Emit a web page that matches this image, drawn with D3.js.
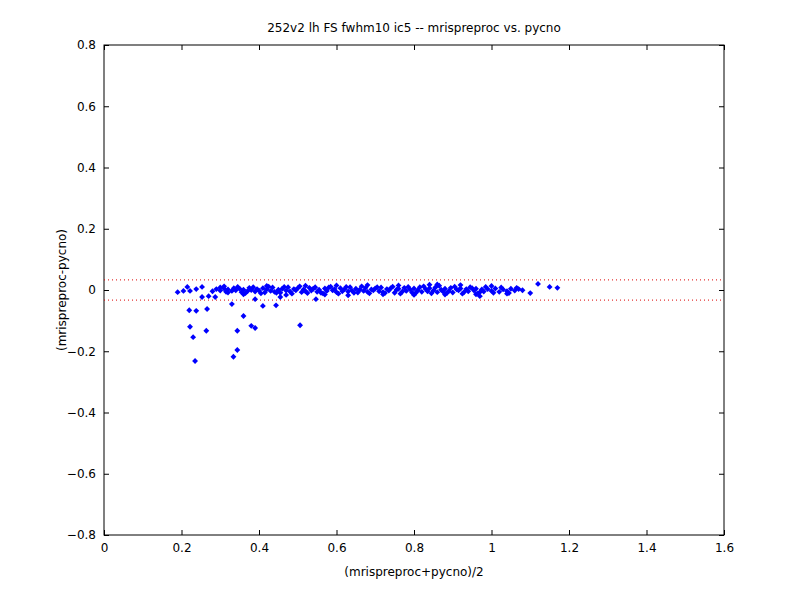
<!DOCTYPE html>
<html>
<head>
<meta charset="utf-8">
<script src="https://d3js.org/d3.v7.min.js"></script>
<style>
  body { margin: 0; background: #fff; }
  text { font-family: "DejaVu Sans", sans-serif; font-size: 12px; }
</style>
</head>
<body>
<div id="chart"></div>
<script>
var w = 800, h = 600;
var margin = {left: 104, right: 76, top: 45, bottom: 65};

var xTicks = [0, 0.2, 0.4, 0.6, 0.8, 1, 1.2, 1.4, 1.6];
var yTicks = [-0.8, -0.6, -0.4, -0.2, 0, 0.2, 0.4, 0.6, 0.8];
var limits = [-0.033, 0.033];

// scattered points below the band
var outX = [0.19, 0.205, 0.215, 0.222, 0.238, 0.253, 0.253, 0.27, 0.287, 0.33, 0.39, 0.41, 0.444, 0.455, 0.547,
  0.22, 0.238, 0.266, 0.36, 0.222, 0.264, 0.23, 0.344, 0.38, 0.39, 0.506, 0.344, 0.334, 0.235,
  0.97, 1.12, 1.15, 1.17, 1.1];
var outY = [-0.007, -0.003, 0.01, -0.003, 0.003, 0.01, -0.023, -0.02, -0.023, -0.046, -0.03, -0.052, -0.05, -0.023, -0.03,
  -0.066, -0.068, -0.062, -0.085, -0.12, -0.133, -0.154, -0.133, -0.117, -0.124, -0.115, -0.196, -0.218, -0.232,
  -0.02, 0.02, 0.01, 0.007, -0.01];

// dense band near zero
var bandX = [0.28, 0.29, 0.3, 0.31, 0.315, 0.32, 0.33, 0.335, 0.34, 0.35, 0.355, 0.36, 0.37, 0.375, 0.38, 0.39, 0.395, 0.4,
  0.41, 0.415, 0.42, 0.43, 0.435, 0.44, 0.45, 0.455, 0.46, 0.47, 0.475, 0.48, 0.49, 0.495, 0.5, 0.51, 0.515, 0.52,
  0.53, 0.535, 0.54, 0.55, 0.555, 0.56, 0.57, 0.575, 0.58, 0.59, 0.595, 0.6, 0.61, 0.615, 0.62, 0.63, 0.635, 0.64,
  0.65, 0.655, 0.66, 0.67, 0.675, 0.68, 0.69, 0.695, 0.7, 0.71, 0.715, 0.72, 0.73, 0.735, 0.74, 0.75, 0.755, 0.76,
  0.77, 0.775, 0.78, 0.79, 0.795, 0.8, 0.81, 0.815, 0.82, 0.83, 0.835, 0.84, 0.85, 0.855, 0.86, 0.87, 0.875, 0.88,
  0.89, 0.895, 0.9, 0.91, 0.915, 0.92, 0.93, 0.935, 0.94, 0.95, 0.955, 0.96, 0.97, 0.975, 0.98, 0.99, 1.0, 1.01,
  1.02, 1.03, 1.04, 1.05, 1.06, 1.07, 1.08,
  0.3, 0.32, 0.345, 0.365, 0.385, 0.405, 0.425, 0.445, 0.465, 0.485, 0.505, 0.525, 0.545, 0.565, 0.585, 0.605,
  0.625, 0.645, 0.665, 0.685, 0.705, 0.725, 0.745, 0.765, 0.785, 0.805, 0.825, 0.845, 0.865, 0.885, 0.905, 0.925,
  0.945, 0.965, 0.985, 1.005, 1.025, 1.045, 1.065,
  0.31, 0.36, 0.42, 0.47, 0.52, 0.57, 0.6, 0.63, 0.68, 0.72, 0.76, 0.8, 0.84, 0.86, 0.88, 0.92, 0.96, 1.0, 1.04];
var bandY = [-0.004, 0.003, -0.002, 0.005, -0.006, 0.002, -0.003, 0.006, -0.001, 0.004, -0.007, 0.001, -0.004, 0.007, 0.0, -0.005, 0.003, -0.002,
  0.006, -0.008, 0.002, -0.003, 0.008, -0.006, 0.001, -0.009, 0.004, -0.002, 0.009, -0.005, 0.003, -0.001, 0.006, -0.007, 0.002, -0.004,
  0.007, -0.002, 0.004, -0.006, 0.001, -0.009, 0.005, -0.003, 0.008, -0.001, 0.003, -0.007, 0.006, -0.004, 0.002, -0.005, 0.009, -0.002,
  0.004, -0.008, 0.001, -0.003, 0.007, -0.006, 0.002, -0.001, 0.005, -0.004, 0.008, -0.007, 0.003, -0.002, 0.006, -0.009, 0.001, 0.004,
  -0.005, 0.007, -0.003, 0.002, -0.008, 0.005, -0.001, 0.009, -0.006, 0.003, -0.004, 0.006, -0.002, 0.008, -0.007, 0.001, -0.005, 0.004,
  -0.003, 0.007, -0.008, 0.002, -0.001, 0.005, -0.006, 0.003, -0.004, 0.006, -0.002, 0.004, -0.007, 0.002, -0.005, 0.003, -0.003, 0.005,
  -0.006, 0.002, -0.004, 0.004, -0.002, 0.003, -0.001,
  0.008, -0.008, 0.01, -0.01, 0.009, -0.011, 0.011, -0.009, 0.01, -0.012, 0.012, -0.01, 0.009, -0.011, 0.011, -0.012,
  0.01, -0.009, 0.012, -0.011, 0.009, -0.01, 0.011, -0.012, 0.01, -0.009, 0.012, -0.011, 0.014, -0.01, 0.011, -0.012,
  0.009, -0.011, 0.01, -0.009, 0.008, -0.01, 0.007,
  0.012, -0.014, 0.013, -0.016, 0.014, -0.015, 0.015, -0.017, 0.016, -0.014, 0.015, -0.016, 0.017, 0.018, -0.015, 0.016, -0.014, 0.013, -0.012];

var points = [];
bandX.forEach(function(x, i) { points.push([x, bandY[i]]); });
outX.forEach(function(x, i) { points.push([x, outY[i]]); });

var svg = d3.select("#chart").append("svg").attr("width", w).attr("height", h);

var x = d3.scaleLinear().domain([0, 1.6]).range([margin.left, w - margin.right]);
var y = d3.scaleLinear().domain([-0.8, 0.8]).range([h - margin.bottom, margin.top]);

svg.append("rect")
  .attr("x", x(0)).attr("y", y(0.8))
  .attr("width", x(1.6) - x(0)).attr("height", y(-0.8) - y(0.8))
  .attr("fill", "#fff").attr("stroke", "#000");

// axes with inward ticks, mirrored on top/right
function fmt(d) { return d3.format("")(+d.toFixed(1)); }
svg.append("g").attr("transform", "translate(0," + y(-0.8) + ")")
  .call(d3.axisBottom(x).tickValues(xTicks).tickSizeInner(-5).tickSizeOuter(0).tickPadding(8).tickFormat(fmt));
svg.append("g").attr("transform", "translate(0," + y(0.8) + ")")
  .call(d3.axisTop(x).tickValues(xTicks).tickSizeInner(-5).tickSizeOuter(0).tickFormat(""));
svg.append("g").attr("transform", "translate(" + x(0) + ",0)")
  .call(d3.axisLeft(y).tickValues(yTicks).tickSizeInner(-5).tickSizeOuter(0).tickPadding(8).tickFormat(fmt));
svg.append("g").attr("transform", "translate(" + x(1.6) + ",0)")
  .call(d3.axisRight(y).tickValues(yTicks).tickSizeInner(-5).tickSizeOuter(0).tickFormat(""));
svg.selectAll(".domain").remove();
svg.selectAll(".tick text").attr("fill", "#000").style("font-size", "12px");

svg.selectAll("line.lim").data(limits).enter().append("line")
  .attr("class", "lim")
  .attr("x1", x(0)).attr("x2", x(1.6))
  .attr("y1", function(d) { return y(d); }).attr("y2", function(d) { return y(d); })
  .attr("stroke", "#d00").attr("stroke-width", 1).attr("stroke-dasharray", "1,3");

svg.selectAll("path.pt").data(points).enter().append("path")
  .attr("class", "pt")
  .attr("d", d3.symbol().type(d3.symbolDiamond2).size(22))
  .attr("transform", function(d) { return "translate(" + x(d[0]) + "," + y(d[1]) + ")"; })
  .attr("fill", "#0000ff");

svg.append("text").attr("x", 414).attr("y", 32).attr("text-anchor", "middle")
  .text("252v2 lh FS fwhm10 ic5 -- mrispreproc vs. pycno");
svg.append("text").attr("x", 414).attr("y", 576).attr("text-anchor", "middle")
  .text("(mrispreproc+pycno)/2");
svg.append("text").attr("transform", "translate(66,290) rotate(-90)").attr("text-anchor", "middle")
  .text("(mrispreproc-pycno)");
</script>
</body>
</html>
